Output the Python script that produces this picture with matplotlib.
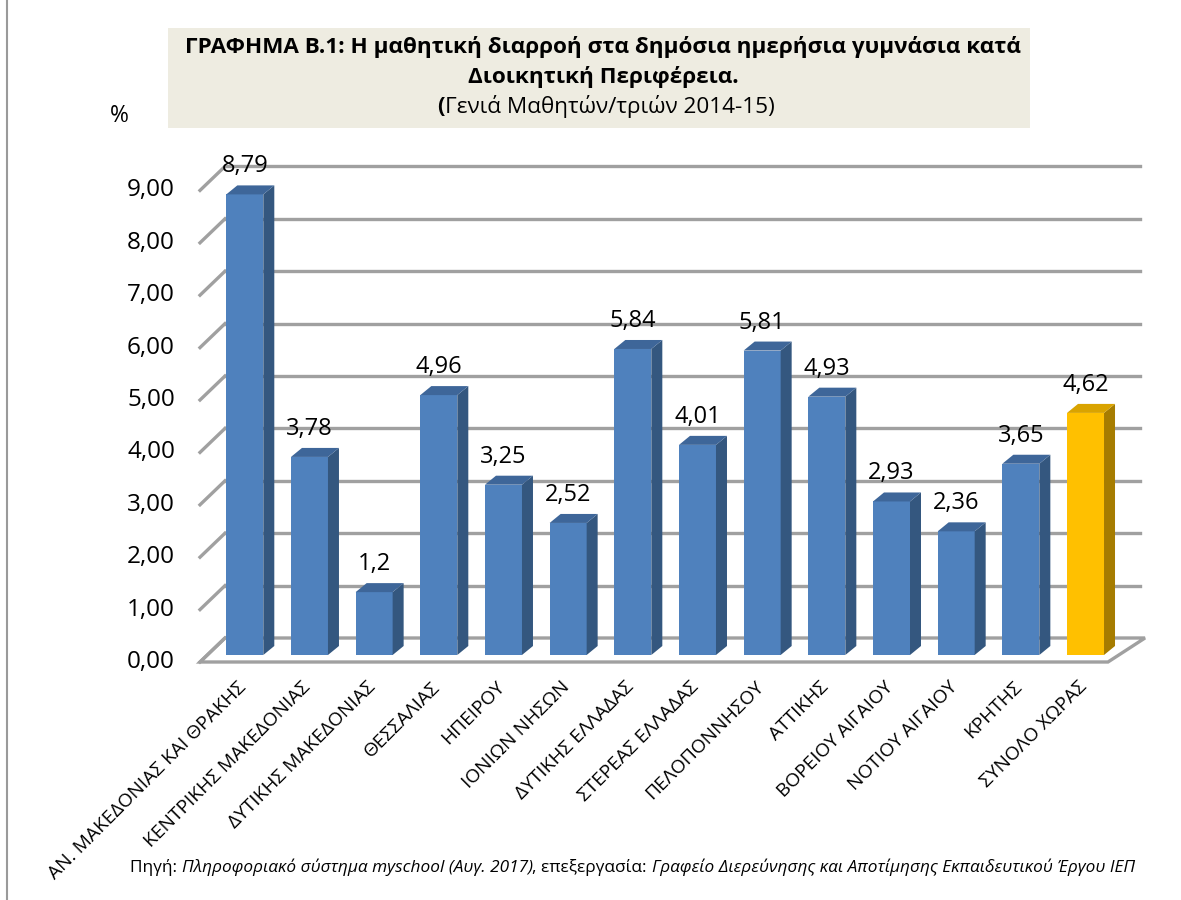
import matplotlib
matplotlib.use("Agg")
import matplotlib.pyplot as plt
from matplotlib.patches import Polygon, Rectangle
from matplotlib.lines import Line2D

plt.rcParams['font.family'] = ['Open Sans', 'DejaVu Sans']

# ---------- data ----------
regions = ["ΑΝ. ΜΑΚΕΔΟΝΙΑΣ ΚΑΙ ΘΡΑΚΗΣ", "ΚΕΝΤΡΙΚΗΣ ΜΑΚΕΔΟΝΙΑΣ", "ΔΥΤΙΚΗΣ ΜΑΚΕΔΟΝΙΑΣ",
           "ΘΕΣΣΑΛΙΑΣ", "ΗΠΕΙΡΟΥ", "ΙΟΝΙΩΝ ΝΗΣΩΝ", "ΔΥΤΙΚΗΣ ΕΛΛΑΔΑΣ", "ΣΤΕΡΕΑΣ ΕΛΛΑΔΑΣ",
           "ΠΕΛΟΠΟΝΝΗΣΟΥ", "ΑΤΤΙΚΗΣ", "ΒΟΡΕΙΟΥ ΑΙΓΑΙΟΥ", "ΝΟΤΙΟΥ ΑΙΓΑΙΟΥ", "ΚΡΗΤΗΣ",
           "ΣΥΝΟΛΟ ΧΩΡΑΣ"]
diarroi = [8.79, 3.78, 1.2, 4.96, 3.25, 2.52, 5.84, 4.01, 5.81, 4.93, 2.93, 2.36, 3.65, 4.62]
value_labels = ["8,79", "3,78", "1,2", "4,96", "3,25", "2,52", "5,84", "4,01", "5,81",
                "4,93", "2,93", "2,36", "3,65", "4,62"]
y_ticks = [0, 1, 2, 3, 4, 5, 6, 7, 8, 9]
y_tick_labels = ["0,00", "1,00", "2,00", "3,00", "4,00", "5,00", "6,00", "7,00", "8,00", "9,00"]
total_label = "ΣΥΝΟΛΟ ΧΩΡΑΣ"

# ---------- layout (pixels -> data units) ----------
W, H = 1181, 900
PX_X = 64.67      # px per category
PX_Y = 52.4       # px per 1 %
X0_PX = 244.8     # centre of first bar
Y0_PX = 662       # value 0 on the front plane


def dx(px):
    return px / PX_X


def dy(px):
    return px / PX_Y


bar_lift = dy(7)          # bars stand a bit behind the floor front edge
back_dy = dy(24)
half_w = dx(18.5)
side_dx, top_dy = dx(11), dy(9)

blue = ('#4F81BD', '#34577F', '#3E6699')
gold = ('#FFC000', '#A67C00', '#D9A300')
grid_c = '#A0A0A0'

fig = plt.figure(figsize=(W / 100, H / 100), dpi=100)
ax = fig.add_axes([0, 0, 1, 1])
ax.set_xlim(-X0_PX / PX_X, (W - X0_PX) / PX_X)
ax.set_ylim((Y0_PX - H) / PX_Y, Y0_PX / PX_Y)
ax.axis('off')

# figure border on the left
fig.add_artist(Line2D([7 / W, 7 / W], [0, 1], color='#9A9A9A', lw=1.5))

# ---------- floor ----------
fl_x0, fl_x1 = dx(200 - X0_PX), dx(1108 - X0_PX)
fb_x0, fb_x1 = dx(225 - X0_PX), dx(1145 - X0_PX)
floor = Polygon([(fl_x0, 0), (fl_x1, 0), (fb_x1, back_dy), (fb_x0, back_dy)],
                closed=True, fc='white', ec=grid_c, lw=2.4, zorder=1)
ax.add_patch(floor)

# ---------- back wall / side wall gridlines ----------
grid_x1 = dx(1140 - X0_PX)
for v in y_ticks:
    if v > 0:
        ax.plot([fb_x0, grid_x1], [v + back_dy, v + back_dy], color=grid_c, lw=2.4, zorder=1)
    ax.plot([fl_x0, fb_x0], [v, v + back_dy], color=grid_c, lw=2.4, zorder=1)

# y tick labels
for v, lab in zip(y_ticks, y_tick_labels):
    ax.text(dx(175 - X0_PX), v, lab, ha='right', va='center', fontsize=17.5)

ax.text(dx(119 - X0_PX), dy(Y0_PX - 116), "%", ha='center', va='center', fontsize=16.5)

# ---------- bars ----------
xs = list(range(len(regions)))
colors = [gold if r == total_label else blue for r in regions]
ax.bar(xs, diarroi, width=2 * half_w, bottom=bar_lift,
       color=[c[0] for c in colors], zorder=3)
for x, v, c in zip(xs, diarroi, colors):
    top = v + bar_lift
    xr = x + half_w
    xl = x - half_w
    side = Polygon([(xr, bar_lift), (xr + side_dx, bar_lift + top_dy),
                    (xr + side_dx, top + top_dy), (xr, top)],
                   closed=True, fc=c[1], ec='none', zorder=3)
    lid = Polygon([(xl, top), (xr, top), (xr + side_dx, top + top_dy), (xl + side_dx, top + top_dy)],
                  closed=True, fc=c[2], ec='none', zorder=3)
    ax.add_patch(side)
    ax.add_patch(lid)

for x, v, lab in zip(xs, diarroi, value_labels):
    ax.text(x, v + bar_lift + top_dy + dy(19), lab, ha='center', va='center', fontsize=17)

# ---------- category labels ----------
for x, lab in zip(xs, regions):
    ax.text(x - dx(8), dy(-16), lab, rotation=45, rotation_mode='anchor',
            ha='right', va='top', fontsize=13.8)

# ---------- title ----------
ax.add_patch(Rectangle((168 / W, 1 - 128 / H), 862 / W, 100 / H, fc='#EEECE1', ec='none',
                       transform=fig.transFigure, zorder=0))
ax.text(603 / W, 1 - 47 / H, "ΓΡΑΦΗΜΑ Β.1: Η μαθητική διαρροή στα δημόσια ημερήσια γυμνάσια κατά",
        ha='center', va='center', fontsize=16.2, weight='bold', transform=fig.transFigure)
ax.text(603 / W, 1 - 77 / H, "Διοικητική Περιφέρεια.", ha='center', va='center',
        fontsize=16.2, weight='bold', transform=fig.transFigure)
t3 = ax.text(610 / W, 1 - 106 / H, "Γενιά Μαθητών/τριών 2014-15)", ha='center', va='center',
             fontsize=16.2, transform=fig.transFigure)
ax.annotate("(", xy=(0, 0), xycoords=t3, ha='right', va='bottom', fontsize=16.2, weight='bold')

# ---------- source note ----------
parts = [("Πηγή: ", 'normal'),
         ("Πληροφοριακό σύστημα myschool (Αυγ. 2017)", 'italic'),
         (", επεξεργασία: ", 'normal'),
         ("Γραφείο Διερεύνησης και Αποτίμησης Εκπαιδευτικού Έργου ΙΕΠ", 'italic')]
prev = None
for txt, style in parts:
    if prev is None:
        prev = ax.text(130 / W, 1 - 867 / H, txt, ha='left', va='center', fontsize=12.4,
                       style=style, transform=fig.transFigure)
    else:
        prev = ax.annotate(txt, xy=(1, 0), xycoords=prev, ha='left', va='bottom',
                           fontsize=12.4, style=style)

fig.savefig("out.png", dpi=100, facecolor='white')
